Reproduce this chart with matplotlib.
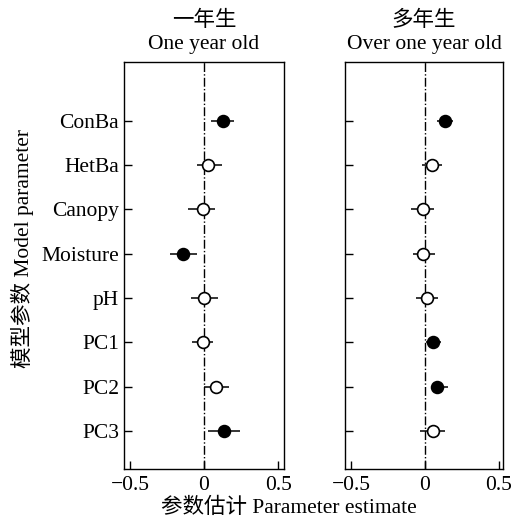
import numpy as np
import matplotlib.pyplot as plt

plt.rcParams['font.family'] = ['Liberation Serif', 'Noto Sans CJK SC']
plt.rcParams['axes.unicode_minus'] = True

params = ["ConBa", "HetBa", "Canopy", "Moisture", "pH", "PC1", "PC2", "PC3"]

# one year old
est1 = [0.13, 0.03, -0.01, -0.14, 0.00, -0.01, 0.08, 0.135]
lo1 = [0.05, -0.05, -0.11, -0.23, -0.09, -0.08, 0.00, 0.03]
hi1 = [0.20, 0.12, 0.075, -0.05, 0.095, 0.06, 0.17, 0.24]
sig1 = [True, False, False, True, False, False, False, True]

# over one year old
est2 = [0.135, 0.05, -0.015, -0.01, 0.015, 0.055, 0.08, 0.055]
lo2 = [0.08, -0.02, -0.09, -0.08, -0.06, 0.01, 0.04, -0.03]
hi2 = [0.19, 0.12, 0.06, 0.07, 0.09, 0.11, 0.155, 0.14]
sig2 = [True, False, False, False, False, True, True, False]

titles_cn = ["一年生", "多年生"]
titles_en = ["One year old", "Over one year old"]

fs = 15.5
fig = plt.figure(figsize=(5.19, 5.21), dpi=100)
ax1 = fig.add_axes([124/519, 1 - 469/521, 160/519, 407/521])
ax2 = fig.add_axes([345/519, 1 - 469/521, 158/519, 407/521])

y = np.arange(len(params))[::-1] + 1

for ax, est, lo, hi, sig, tcn, ten, xl in [
        (ax1, est1, lo1, hi1, sig1, titles_cn[0], titles_en[0], (-0.54, 0.54)),
        (ax2, est2, lo2, hi2, sig2, titles_cn[1], titles_en[1], (-0.54, 0.53))]:
    ax.axvline(0, color='k', ls='-.', lw=1)
    ax.hlines(y, lo, hi, color='k', lw=1.1)
    for yi, e, s in zip(y, est, sig):
        ax.plot(e, yi, 'o', ms=8.5, mec='k', mew=1.2,
                mfc='k' if s else 'white')
    ax.set_xlim(xl)
    ax.set_ylim(0.14, 9.33)
    ax.set_xticks([-0.5, 0, 0.5])
    ax.set_xticklabels(["\u22120.5", "0", "0.5"])
    ax.set_yticks(y)
    ax.tick_params(direction='in', length=6, labelsize=fs, width=1)
    ax.tick_params(axis='x', pad=5)
    # two-line title: chinese on top, english below
    ax.text(0.5, 1 + 17/407, ten, transform=ax.transAxes, ha='center',
            va='center', fontsize=fs)
    ax.text(0.5, 1 + 41/407, tcn, transform=ax.transAxes, ha='center',
            va='center', fontsize=fs)
    for sp in ax.spines.values():
        sp.set_linewidth(1)

ax1.set_yticklabels(params)
ax2.set_yticklabels([])

fig.text(289/519, 1 - 508/521, "参数估计 Parameter estimate", ha='center',
         va='center', fontsize=fs)
fig.text(22/519, 1 - 249/521, "模型参数 Model parameter", ha='center',
         va='center', rotation=90, fontsize=fs)

fig.savefig("out.png", dpi=100)
